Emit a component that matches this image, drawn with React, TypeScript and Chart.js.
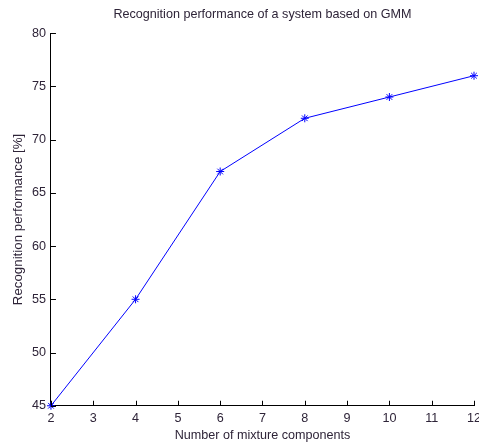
import React, { useEffect, useRef } from "react";
import { Chart, registerables } from "chart.js";

Chart.register(...registerables);

const components = [2, 4, 6, 8, 10, 12];
const performance = [45, 55, 67, 72, 74, 76];
const xTicks = [2, 3, 4, 5, 6, 7, 8, 9, 10, 11, 12];
const yTicks = [45, 50, 55, 60, 65, 70, 75, 80];

const TEXT = "#2e2438";
const FONT = "Liberation Sans, Arial, sans-serif";

const inwardTicks = {
  id: "inwardTicks",
  afterLayout(chart: any) {
    const t = chart.titleBlock;
    if (t) {
      t.left = chart.chartArea.left;
      t.right = chart.chartArea.right;
      t.width = t.right - t.left;
    }
  },
  afterDraw(chart: any) {
    const ctx = chart.ctx;
    const xs = chart.scales.x;
    const ys = chart.scales.y;
    const area = chart.chartArea;
    ctx.save();
    ctx.strokeStyle = "#000";
    ctx.lineWidth = 1;
    ctx.beginPath();
    xTicks.forEach((v) => {
      const px = Math.round(xs.getPixelForValue(v)) + 0.5;
      ctx.moveTo(px, area.bottom);
      ctx.lineTo(px, area.bottom - 5);
    });
    yTicks.forEach((v) => {
      const py = Math.round(ys.getPixelForValue(v)) + 0.5;
      ctx.moveTo(area.left, py);
      ctx.lineTo(area.left + 5, py);
    });
    ctx.stroke();
    ctx.restore();
  },
};

export default function App() {
  const ref = useRef<HTMLCanvasElement | null>(null);
  useEffect(() => {
    if (!ref.current) return;
    const chart = new Chart(ref.current, {
      type: "line",
      data: {
        datasets: [
          {
            data: components.map((c, i) => ({ x: c, y: performance[i] })),
            borderColor: "#0000ff",
            backgroundColor: "#0000ff",
            borderWidth: 1,
            pointStyle: "star",
            pointRadius: 4,
            pointBorderWidth: 1,
            pointBorderColor: "#0000ff",
            tension: 0,
            clip: false as any,
          },
        ],
      },
      options: {
        animation: false,
        responsive: false,
        maintainAspectRatio: false,
        layout: { padding: { top: 6, left: 10, right: 0, bottom: 0 } },
        plugins: {
          legend: { display: false },
          tooltip: { enabled: false },
          title: {
            display: true,
            text: "Recognition performance of a system based on GMM",
            color: TEXT,
            font: { family: FONT, size: 12.6, weight: "normal" },
            padding: { top: 1, bottom: 11 },
          },
        },
        scales: {
          x: {
            type: "linear",
            min: 2,
            max: 12,
            afterBuildTicks: (s: any) => {
              s.ticks = xTicks.map((v) => ({ value: v }));
            },
            afterFit: (s: any) => {
              s.paddingRight = 5;
            },
            grid: { drawOnChartArea: false, drawTicks: false },
            border: { display: true, color: "#000", width: 1 },
            ticks: {
              color: TEXT,
              font: { family: FONT, size: 12.6 },
              padding: 5,
              maxRotation: 0,
              autoSkip: false,
            },
            title: {
              display: true,
              text: "Number of mixture components",
              color: TEXT,
              font: { family: FONT, size: 12.6 },
              padding: { top: -3, bottom: 0 },
            },
          },
          y: {
            type: "linear",
            min: 45,
            max: 80,
            afterBuildTicks: (s: any) => {
              s.ticks = yTicks.map((v) => ({ value: v }));
            },
            grid: { drawOnChartArea: false, drawTicks: false },
            border: { display: true, color: "#000", width: 1 },
            ticks: {
              color: TEXT,
              font: { family: FONT, size: 12.6 },
              padding: 5,
              autoSkip: false,
            },
            title: {
              display: true,
              text: "Recognition performance [%]",
              color: TEXT,
              font: { family: FONT, size: 13.3 },
              padding: { top: 0, bottom: 1 },
            },
          },
        },
      },
      plugins: [inwardTicks],
    });
    return () => chart.destroy();
  }, []);
  return (
    <div style={{ position: "fixed", left: 0, top: 0, width: 479, height: 443, background: "#fff" }}>
      <canvas ref={ref} width={479} height={443} style={{ display: "block" }} />
    </div>
  );
}
